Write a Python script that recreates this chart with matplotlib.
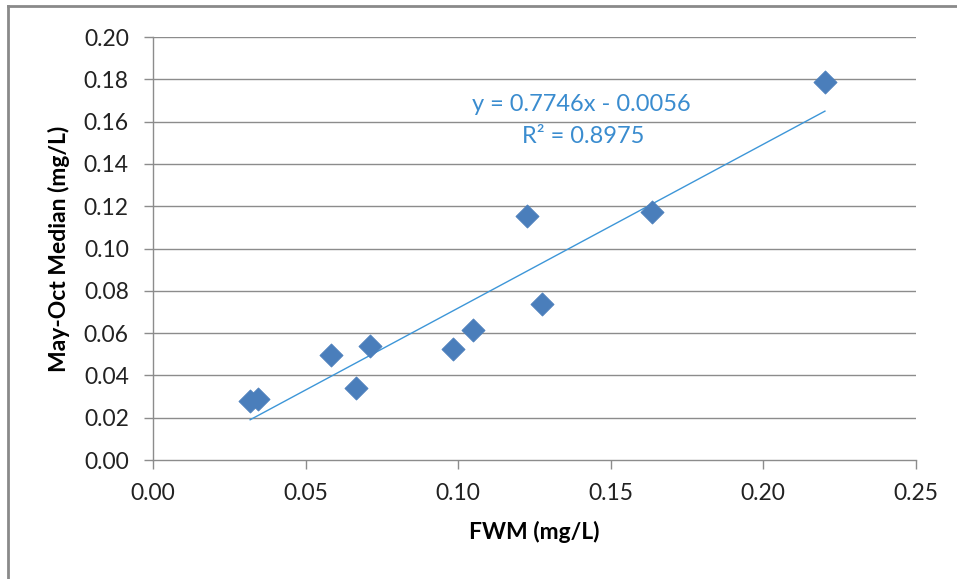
import matplotlib.pyplot as plt
from matplotlib.lines import Line2D
import numpy as np

# values
fwm = [0.0318, 0.0344, 0.0583, 0.0665, 0.0711, 0.0983, 0.1049, 0.1225, 0.1275, 0.1635, 0.2202]
median = [0.0279, 0.0288, 0.0496, 0.0340, 0.0539, 0.0525, 0.0615, 0.1154, 0.0738, 0.1173, 0.1787]

# trendline coefficients as shown on the chart
slope = 0.7746
intercept = -0.0056
r2 = 0.8975

xticks = [0.00, 0.05, 0.10, 0.15, 0.20, 0.25]
yticks = [0.00, 0.02, 0.04, 0.06, 0.08, 0.10, 0.12, 0.14, 0.16, 0.18, 0.20]

plt.rcParams['font.family'] = ['Lato', 'DejaVu Sans']

fig = plt.figure(figsize=(9.57, 5.79), dpi=100)
ax = fig.add_axes([0.160, 0.2055, 0.797, 0.7305])

grid_col = '#8c8c8c'
for y in yticks[1:]:
    ax.axhline(y, color=grid_col, lw=1.0, zorder=1)

ax.scatter(fwm, median, marker='D', s=140, color='#4a7ebb', edgecolors='#4a7ebb',
           linewidths=0.5, zorder=3)

xs = np.array([min(fwm), max(fwm)])
ax.plot(xs, slope * xs + intercept, color='#3d96d8', lw=1.0, zorder=2)

ax.text(0.1405, 0.168, 'y = 0.7746x - 0.0056', color='#3a8ccf', fontsize=17,
        ha='center', va='center')
ax.text(0.1408, 0.153, 'R² = %.4f' % r2, color='#3a8ccf', fontsize=17,
        ha='center', va='center')

ax.set_xlim(0, 0.25)
ax.set_ylim(0, 0.20)
ax.set_xticks(xticks)
ax.set_yticks(yticks)
ax.set_xticklabels(['%.2f' % v for v in xticks])
ax.set_yticklabels(['%.2f' % v for v in yticks])
ax.tick_params(axis='both', labelsize=16.5, color=grid_col, length=6.5, width=1.0,
               labelcolor='#222222')
ax.tick_params(axis='x', pad=10)
ax.tick_params(axis='y', pad=11)

for side in ['top', 'right']:
    ax.spines[side].set_visible(False)
for side in ['left', 'bottom']:
    ax.spines[side].set_color(grid_col)
    ax.spines[side].set_linewidth(1.0)

ax.set_xlabel('FWM (mg/L)', fontsize=16.5, fontweight='bold', labelpad=12)
ax.set_ylabel('May-Oct Median (mg/L)', fontsize=16.5, fontweight='bold', labelpad=10)

# outer chart border (left and top edges visible)
fig.add_artist(Line2D([0.0085, 0.0085], [0.0, 0.99], transform=fig.transFigure,
                      color='#8a8a8a', lw=2))
fig.add_artist(Line2D([0.0085, 1.0], [0.99, 0.99], transform=fig.transFigure,
                      color='#8a8a8a', lw=2))

fig.savefig('out.png', dpi=100)
